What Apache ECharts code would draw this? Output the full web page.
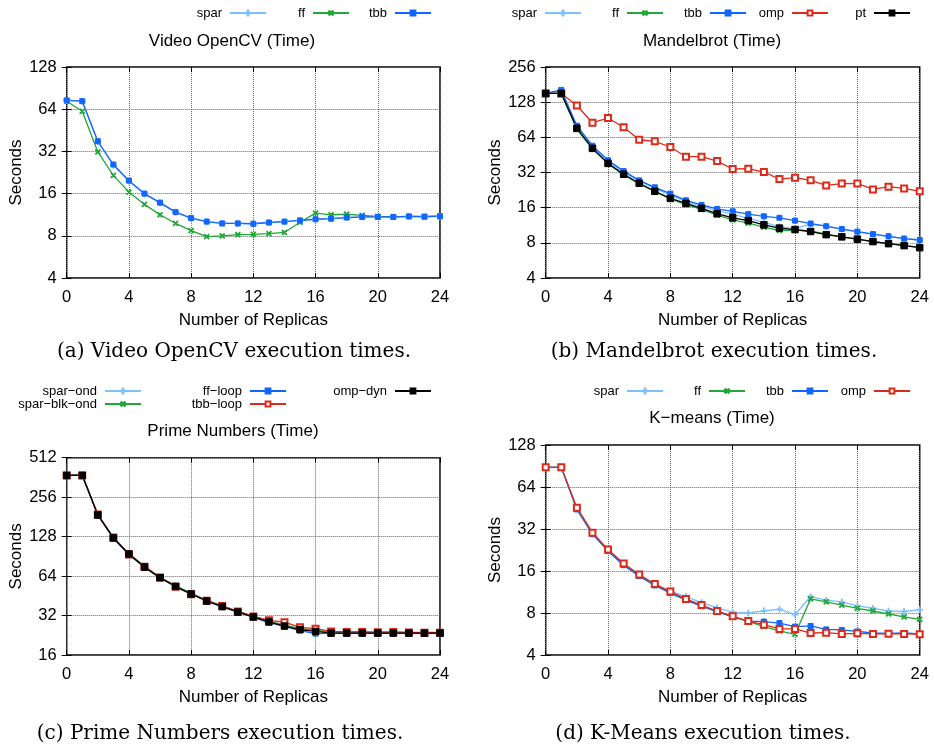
<!DOCTYPE html>
<html>
<head>
<meta charset="utf-8">
<script src="https://cdn.jsdelivr.net/npm/echarts@6/dist/echarts.min.js"></script>
<style>
  html, body { margin: 0; padding: 0; background: #fff; }
  #main { width: 934px; height: 752px; }
</style>
</head>
<body>
<div id="main"></div>
<script>
var replicas = [0, 1, 2, 3, 4, 5, 6, 7, 8, 9, 10, 11, 12, 13, 14, 15, 16, 17, 18, 19, 20, 21, 22, 23, 24];

// (a) Video OpenCV
var videoSpar = [74, 73, 37.5, 25.5, 19.6, 15.9, 13.7, 11.8, 10.7, 10.1, 9.8, 9.8, 9.75, 9.95, 10.1, 10.3, 10.5, 10.6, 10.8, 10.9, 10.9, 10.9, 11.0, 10.95, 11.0];
var videoFf = [73, 61.8, 31.7, 21.6, 16.4, 13.4, 11.3, 9.8, 8.7, 7.9, 8.0, 8.15, 8.2, 8.3, 8.45, 10.0, 11.6, 11.3, 11.4, 11.2, 11.0, 10.9, 11.0, 11.0, 11.1];
var videoTbb = [74, 73, 37.8, 25.8, 19.8, 16, 13.8, 11.8, 10.7, 10.1, 9.8, 9.8, 9.75, 9.95, 10.1, 10.3, 10.5, 10.6, 10.8, 10.9, 10.9, 10.9, 11.0, 10.95, 11.0];

// (b) Mandelbrot
var mandelSpar = [152, 160, 79, 53, 40, 32.2, 27, 23.4, 20.5, 18, 16.4, 15.1, 14.0, 13.0, 12.0, 11.0, 10.6, 11.6, 11.1, 10.5, 9.97, 9.5, 9.1, 8.7, 8.46];
var mandelFf = [152, 152, 75, 51, 38, 30.5, 25.5, 22, 19, 17, 15.5, 13.8, 12.6, 11.8, 10.9, 10.2, 10.3, 10.1, 9.5, 9.0, 8.6, 8.2, 7.9, 7.6, 7.3];
var mandelTbb = [152, 163, 80.5, 54.2, 40.7, 32.9, 27.4, 23.9, 21.1, 18.5, 16.9, 15.6, 14.9, 14.1, 13.5, 13.1, 12.4, 11.7, 11.1, 10.5, 9.97, 9.5, 9.1, 8.7, 8.46];
var mandelOmp = [152, 152, 120, 85.4, 93.6, 78, 61, 59.2, 52.9, 43.7, 43.7, 40.1, 34.3, 34.5, 32.3, 28.1, 28.9, 27.4, 24.8, 25.7, 25.8, 22.9, 24.2, 23.4, 22.1];
var mandelPt = [152, 152, 76.4, 51.5, 38.3, 30.9, 25.9, 22.1, 19.2, 17.4, 15.8, 14.2, 13.1, 12.4, 11.4, 10.7, 10.4, 10.0, 9.4, 9.0, 8.6, 8.2, 7.87, 7.57, 7.27];

// (c) Prime Numbers
var primeSparOnd = [375, 378, 188, 125, 94, 75, 62, 53.5, 47, 41.6, 37.6, 34.3, 31.4, 28.7, 26.8, 25.2, 24.4, 23.8, 23.8, 23.7, 23.7, 23.7, 23.7, 23.7, 23.7];
var primeSparBlkOnd = [378, 380, 189, 126, 95, 76, 62.8, 54, 47.4, 42, 38, 34.6, 31.6, 29.0, 27.0, 25.4, 24.6, 24.0, 24.0, 23.9, 23.9, 23.8, 23.8, 23.8, 23.8];
var primeFfLoop = [375, 377, 187, 124, 93.5, 74.5, 62, 53.3, 46.8, 41.4, 37.3, 34.1, 31.0, 28.3, 26.5, 24.6, 23.3, 23.4, 23.4, 23.5, 23.4, 23.5, 23.5, 23.5, 23.5];
var primeTbbLoop = [375, 375, 189, 126, 93.5, 75.5, 62.5, 53.0, 46.5, 41.5, 37.8, 34.4, 31.5, 29.4, 28.5, 26.0, 25.4, 24.2, 24.0, 24.0, 23.9, 24.0, 23.8, 23.7, 23.7];
var primeOmpDyn = [375, 375, 187, 125, 94.4, 75, 62.2, 53.4, 46.7, 41.3, 37.4, 34.0, 31.2, 28.6, 26.6, 25.0, 24.2, 23.5, 23.5, 23.5, 23.5, 23.5, 23.5, 23.5, 23.5];

// (d) K-means
var kmSpar = [88.5, 88.5, 44.5, 29.6, 22.4, 17.8, 14.9, 12.9, 11.5, 10.5, 9.5, 8.7, 8.1, 8.0, 8.3, 8.5, 7.8, 10.5, 9.9, 9.6, 9.0, 8.65, 8.27, 8.2, 8.45];
var kmFf = [88.5, 88.5, 44.8, 29.8, 22.5, 17.7, 14.8, 12.7, 11.2, 9.95, 9.0, 8.2, 7.55, 6.96, 6.4, 5.95, 5.63, 10.1, 9.6, 9.1, 8.65, 8.27, 7.87, 7.5, 7.2];
var kmTbb = [88.5, 88.5, 44.2, 29.4, 22.2, 17.6, 14.7, 12.6, 11.1, 9.9, 8.95, 8.15, 7.5, 7.0, 6.95, 6.78, 6.39, 6.46, 6.1, 6.05, 5.9, 5.75, 5.72, 5.75, 5.66];
var kmOmp = [88.5, 88.5, 45.5, 30.1, 22.8, 18.1, 15.1, 12.9, 11.4, 10.1, 9.13, 8.27, 7.57, 7.0, 6.6, 6.15, 6.15, 5.75, 5.78, 5.66, 5.72, 5.66, 5.69, 5.66, 5.64];

var yRanges = [[4, 128], [4, 256], [16, 512], [4, 128]];
var panelTitles = ['Video OpenCV (Time)', 'Mandelbrot (Time)', 'Prime Numbers (Time)', 'K\u2212means (Time)'];
var captions = ['(a) Video OpenCV execution times.', '(b) Mandelbrot execution times.', '(c) Prime Numbers execution times.', '(d) K-Means execution times.'];

var SANS = 'Liberation Sans';
var SERIF = 'DejaVu Serif';

var C_SPAR = '#7cc0ff', C_FF = '#22a83a', C_TBB = '#1166ff', C_OMP = '#dd2a1a', C_PT = '#000000';
var PLUS = 'path://M4.3,0H5.7V10H4.3ZM0,4.3H10V5.7H0Z';

var styles = {
  spar: { color: C_SPAR, symbol: PLUS, size: 6, rotate: 0 },
  ff: { color: C_FF, symbol: PLUS, size: 6, rotate: 45 },
  tbb: { color: C_TBB, symbol: 'rect', size: 5, rotate: 0 },
  omp: { color: C_OMP, symbol: 'emptyRect', size: 6, rotate: 0 },
  pt: { color: C_PT, symbol: 'rect', size: 6.5, rotate: 0 }
};

var grids = [
  { left: 66.7, top: 67, width: 373.3, height: 211 },
  { left: 545.7, top: 67, width: 374, height: 211 },
  { left: 66.7, top: 457.7, width: 373.3, height: 197.3 },
  { left: 545.7, top: 445, width: 374, height: 210 }
];

function pairs(vals) {
  return replicas.map(function (x, i) { return [x, vals[i]]; });
}

function mk(name, g, vals, st) {
  return {
    name: name,
    type: 'line',
    xAxisIndex: g,
    yAxisIndex: g,
    data: pairs(vals),
    symbol: st.symbol,
    symbolSize: st.size,
    symbolRotate: st.rotate,
    showAllSymbol: true,
    color: st.color,
    lineStyle: { width: 1.3, color: st.color },
    itemStyle: { color: st.color, borderColor: st.color, borderWidth: 1 },
    emphasis: { disabled: true },
    animation: false,
    z: 3
  };
}

var series = [
  mk('spar', 0, videoSpar, styles.spar),
  mk('ff', 0, videoFf, styles.ff),
  mk('tbb', 0, videoTbb, styles.tbb),

  mk('spar', 1, mandelSpar, styles.spar),
  mk('ff', 1, mandelFf, styles.ff),
  mk('tbb', 1, mandelTbb, styles.tbb),
  mk('omp', 1, mandelOmp, styles.omp),
  mk('pt', 1, mandelPt, styles.pt),

  mk('spar\u2212ond', 2, primeSparOnd, styles.spar),
  mk('spar\u2212blk\u2212ond', 2, primeSparBlkOnd, styles.ff),
  mk('ff\u2212loop', 2, primeFfLoop, styles.tbb),
  mk('tbb\u2212loop', 2, primeTbbLoop, styles.omp),
  mk('omp\u2212dyn', 2, primeOmpDyn, styles.pt),

  mk('spar', 3, kmSpar, styles.spar),
  mk('ff', 3, kmFf, styles.ff),
  mk('tbb', 3, kmTbb, styles.tbb),
  mk('omp', 3, kmOmp, styles.omp)
];

// legend entries: name, right end of sample line, vertical centre
var legendItems = [
  ['spar', 267, 13], ['ff', 350, 13], ['tbb', 432, 13],
  ['spar', 582, 13], ['ff', 664, 13], ['tbb', 747, 13], ['omp', 829, 13], ['pt', 911, 13],
  ['spar\u2212ond', 142, 391], ['spar\u2212blk\u2212ond', 142, 404], ['ff\u2212loop', 287, 391], ['tbb\u2212loop', 287, 404], ['omp\u2212dyn', 432, 391],
  ['spar', 664, 391], ['ff', 746, 391], ['tbb', 829, 391], ['omp', 911, 391]
];

var legends = legendItems.map(function (it) {
  return {
    data: [it[0]],
    right: 934 - it[1],
    top: it[2] - 7,
    align: 'right',
    itemWidth: 36,
    itemHeight: 6,
    itemGap: 0,
    padding: 0,
    selectedMode: false,
    textStyle: { fontFamily: SANS, fontSize: 13, color: '#000', height: 14, lineHeight: 14, padding: [0, 3, 0, 0] }
  };
});

var gridLine = { show: true, lineStyle: { type: 'dotted', color: '#666', width: 1 } };

var xAxes = [], yAxes = [];
grids.forEach(function (g, i) {
  xAxes.push({
    type: 'value', gridIndex: i, min: 0, max: 24, interval: 4,
    name: 'Number of Replicas', nameLocation: 'middle', nameGap: 34,
    nameTextStyle: { fontFamily: SANS, fontSize: 17, color: '#000' },
    axisLine: { show: false },
    axisTick: { inside: true, length: 5, lineStyle: { color: '#000' } },
    axisLabel: { fontFamily: SANS, fontSize: 16.5, color: '#000', margin: 11 },
    splitLine: gridLine
  });
  yAxes.push({
    type: 'log', logBase: 2, gridIndex: i, min: yRanges[i][0], max: yRanges[i][1], interval: 1,
    name: 'Seconds', nameLocation: 'middle', nameGap: 42, nameRotate: 90,
    nameTextStyle: { fontFamily: SANS, fontSize: 17, color: '#000' },
    axisLine: { show: false },
    axisTick: { inside: true, length: 5, lineStyle: { color: '#000' } },
    axisLabel: { fontFamily: SANS, fontSize: 16.5, color: '#000', margin: 10 },
    splitLine: gridLine
  });
});
// mirrored ticks on top / right
grids.forEach(function (g, i) {
  xAxes.push({
    type: 'value', gridIndex: i, min: 0, max: 24, interval: 4, position: 'top',
    axisLine: { show: false }, axisLabel: { show: false }, splitLine: { show: false },
    axisTick: { inside: true, length: 5, lineStyle: { color: '#000' } }
  });
  yAxes.push({
    type: 'log', logBase: 2, gridIndex: i, min: yRanges[i][0], max: yRanges[i][1], interval: 1, position: 'right',
    axisLine: { show: false }, axisLabel: { show: false }, splitLine: { show: false },
    axisTick: { inside: true, length: 5, lineStyle: { color: '#000' } }
  });
});

var titlePos = [[232, 33], [712, 33], [233, 423], [712, 410]];
var captionPos = [[234, 342], [714, 342], [220, 724], [703, 724]];
var titles = [];
panelTitles.forEach(function (t, i) {
  titles.push({
    text: t, left: titlePos[i][0], top: titlePos[i][1], textAlign: 'center', padding: 0,
    textStyle: { fontFamily: SANS, fontSize: 17, fontWeight: 'normal', color: '#000' }
  });
});
captions.forEach(function (t, i) {
  titles.push({
    text: t, left: captionPos[i][0], top: captionPos[i][1], textAlign: 'center', padding: 0,
    textStyle: { fontFamily: SERIF, fontSize: 20, fontWeight: 'normal', color: '#000' }
  });
});

var myChart = echarts.init(document.getElementById('main'), null, { renderer: 'canvas' });
var option = {
  backgroundColor: '#fff',
  animation: false,
  title: titles,
  legend: legends,
  grid: grids.map(function (g) {
    return { left: g.left, top: g.top, width: g.width, height: g.height, show: true, borderColor: '#000', borderWidth: 1.5, backgroundColor: 'transparent' };
  }),
  xAxis: xAxes,
  yAxis: yAxes,
  series: series
};
myChart.setOption(option);
</script>
</body>
</html>
